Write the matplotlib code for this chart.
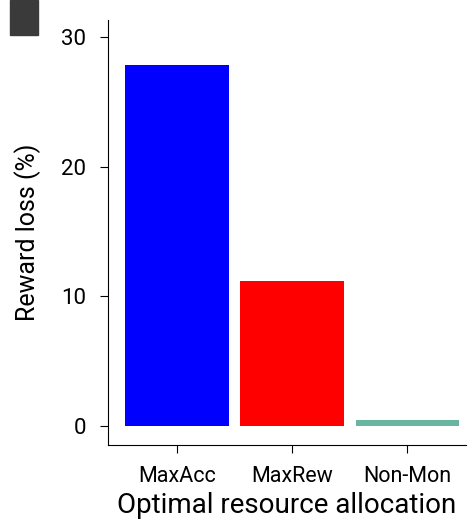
import matplotlib.pyplot as plt
from matplotlib.patches import Rectangle

plt.rcParams['font.family'] = ['Roboto', 'DejaVu Sans']

categories = ['MaxAcc', 'MaxRew', 'Non-Mon']
reward_loss = [27.8, 11.2, 0.45]
colors = ['#0000ff', '#ff0000', '#6ab5a0']

fig = plt.figure(figsize=(4.76, 5.29), dpi=100)
ax = fig.add_axes([0.227, 0.159, 0.752, 0.803])

ax.bar(range(len(categories)), reward_loss, width=0.9, color=colors)
ax.set_xlim(-0.6, 2.51)
ax.set_ylim(-1.46, 31.3)
ax.set_yticks([0, 10, 20, 30])
ax.set_xticks(range(len(categories)))
ax.set_xticklabels(categories, fontsize=15.5)
ax.tick_params(axis='y', labelsize=16, length=6, pad=10)
ax.tick_params(axis='x', length=6, pad=9)
ax.set_ylabel('Reward loss (%)', fontsize=18, labelpad=14)
ax.set_xlabel('Optimal resource allocation', fontsize=20, labelpad=4)
for s in ['top', 'right']:
    ax.spines[s].set_visible(False)

# panel marker in the corner
fig.patches.append(Rectangle((10 / 476, 1 - 35 / 529), 28 / 476, 35 / 529,
                             transform=fig.transFigure, color='#3a3a3a'))

fig.savefig('out.png', dpi=100)
